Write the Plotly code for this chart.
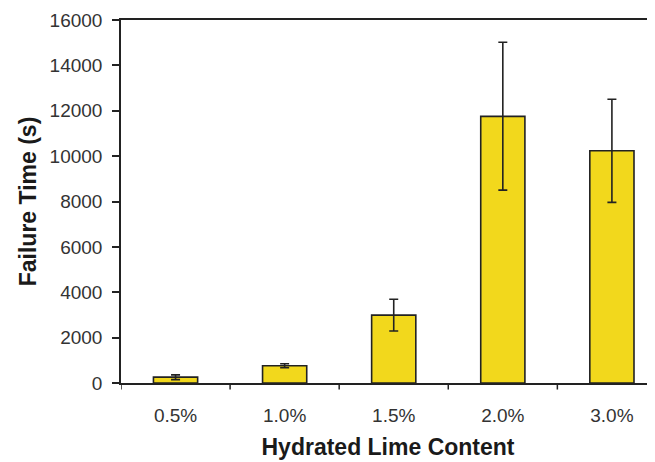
import plotly.graph_objects as go

categories = ["0.5%", "1.0%", "1.5%", "2.0%", "3.0%"]
failure_time = [260, 760, 2990, 11750, 10240]
error_plus = [100, 90, 700, 3270, 2270]
error_minus = [110, 90, 700, 3250, 2280]
y_ticks = [0, 2000, 4000, 6000, 8000, 10000, 12000, 14000, 16000]

fig = go.Figure()
fig.add_trace(go.Bar(
    x=list(range(len(categories))),
    y=failure_time,
    width=0.405,
    marker=dict(color="#F2D81C", line=dict(color="#222222", width=1.6)),
    error_y=dict(type="data", symmetric=False, array=error_plus, arrayminus=error_minus,
                 color="#222222", thickness=1.6, width=4.5),
))

# page body has an 8px default margin, so the figure is offset by 8px
fig.update_layout(
    width=647, height=454,
    margin=dict(l=113, r=0, t=12, b=79),
    paper_bgcolor="white", plot_bgcolor="white",
    showlegend=False,
    font=dict(family="Liberation Sans, Arial, sans-serif", color="#333333"),
)
fig.update_xaxes(
    automargin=False,
    tickmode="array",
    tickvals=list(range(len(categories))),
    ticktext=categories,
    range=[-0.5, 4.395],
    showline=True, linecolor="#222222", linewidth=1.5, mirror=True,
    ticks="", showgrid=False, zeroline=False,
    tickfont=dict(size=19, color="#333333"),
    ticklabelstandoff=14,
    title=dict(text="<b>Hydrated Lime Content</b>", font=dict(size=23, color="#1a1a1a"), standoff=14),
)
fig.update_yaxes(
    automargin=False,
    range=[0, 16000],
    tickmode="array", tickvals=y_ticks, ticktext=[str(v) for v in y_ticks],
    showline=True, linecolor="#222222", linewidth=1.5,
    ticks="outside", ticklen=7, tickcolor="#222222", tickwidth=1.5,
    showgrid=False, zeroline=False,
    tickfont=dict(size=19, color="#333333"),
    ticklabelstandoff=6,
    title=dict(text="<b>Failure Time (s)</b>", font=dict(size=23, color="#1a1a1a"), standoff=7),
)

# boundary ticks between categories
boundaries = [i - 0.5 for i in range(len(categories) + 1)]
for b in boundaries:
    if b <= 4.395:
        fig.add_shape(type="line", xref="x", yref="paper", x0=b, x1=b, y0=0, y1=-0.018,
                      line=dict(color="#222222", width=1.5))

fig.write_html("out.html")
